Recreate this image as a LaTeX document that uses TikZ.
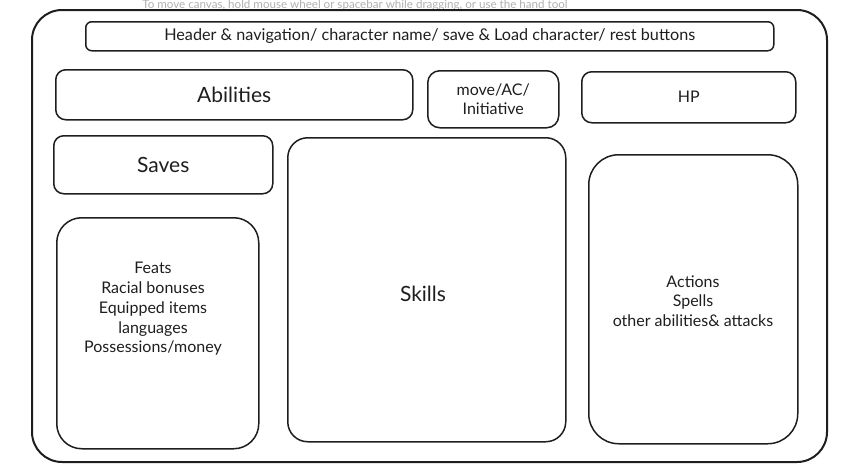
\documentclass[tikz,border=0pt]{standalone}
\usepackage{fontspec}
\setmainfont{Lato}
\usepackage{xcolor}
\definecolor{inkgray}{HTML}{1e1e1e}
\definecolor{hintgray}{HTML}{b0b0b0}
\usepackage{tikz}
\usetikzlibrary{positioning}

\tikzset{
  panel/.style={draw=inkgray, line width=1.5pt, rounded corners=#1, inner sep=0pt},
  panel/.default=10pt,
  lbl/.style={text=inkgray, align=center, font=\fontsize{16}{19.8}\selectfont},
  biglbl/.style={lbl, font=\fontsize{21}{24}\selectfont}
}

\begin{document}
\begin{tikzpicture}[x=1pt, y=-1pt]
    \useasboundingbox (0,0) rectangle (855,471);

    % canvas hint
    \node [text=hintgray, anchor=base, font=\fontsize{11.6}{13}\selectfont] (hint) at (355,9) {To move canvas, hold mouse wheel or spacebar while dragging, or use the hand tool};

    % outer sheet
    \node [panel=30pt, line width=2pt, minimum width=795pt, minimum height=452pt, anchor=north west] (sheet) at (31,9) {};

    % top bar
    \node [panel=6pt, minimum width=688pt, minimum height=29pt, anchor=north west, lbl, font=\fontsize{16.2}{19.8}\selectfont] (header) at (85,21) {Header \& navigation/ character name/ save \& Load character/ rest buttons};

    % second row
    \node [panel=10pt, minimum width=357pt, minimum height=50pt, anchor=north west, biglbl] (abilities) at (55,69) {Abilities};
    \node [panel=12pt, minimum width=131pt, minimum height=57pt, anchor=north west, lbl] (move) at (427,70) {move/AC/\\Initiative};
    \node [panel=10pt, minimum width=214pt, minimum height=51pt, anchor=north west, lbl] (hp) at (581,71) {HP};

    % left column
    \node [panel=10pt, minimum width=219pt, minimum height=58pt, anchor=north west, biglbl] (saves) at (53,135) {Saves};
    \node [panel=25pt, minimum width=202pt, minimum height=231pt, anchor=north west] (feats) at (56,217) {};
    \node [lbl] (featslist) at (153,309) {Feats\\Racial bonuses\\Equipped items\\languages\\Possessions/money};

    % middle and right
    \node [panel=20pt, minimum width=278pt, minimum height=304pt, anchor=north west] (skills) at (287,137) {};
    \node [biglbl] (skillsname) at (423,294) {Skills};
    \node [panel=30pt, minimum width=209pt, minimum height=289pt, anchor=north west] (actions) at (588,154) {};
    \node [lbl] (actionslist) at (693,301) {Actions\\Spells\\other abilities\& attacks};

  \end{tikzpicture}
\end{document}
